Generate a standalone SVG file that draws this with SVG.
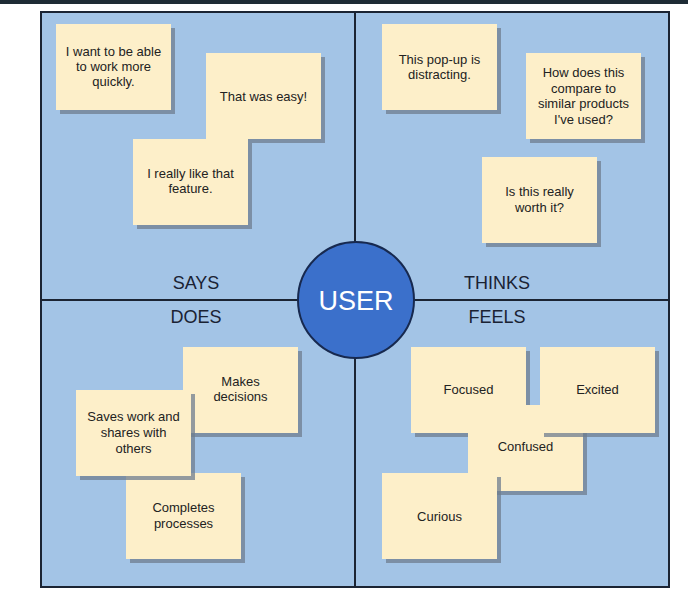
<svg xmlns="http://www.w3.org/2000/svg" width="688" height="596" viewBox="0 0 688 596">
<defs>
<style>
.note{fill:#fdefc9}
.sh{fill:#6f7d8f;opacity:0.75}
.t{font-family:"Liberation Sans",Arial,sans-serif;font-size:13px;fill:#222;text-anchor:middle}
.lab{font-family:"Liberation Sans",Arial,sans-serif;font-size:18px;fill:#1a2233;text-anchor:middle}
.div{stroke:#1b2433;stroke-width:2;fill:none}
</style>
</defs>
<rect x="0" y="0" width="688" height="596" fill="#ffffff"/>
<rect x="0" y="0" width="688" height="4" fill="#1e2b35"/>
<rect id="frame" x="41" y="12" width="628" height="575" fill="#a3c4e6" stroke="#1b2433" stroke-width="2"/>
<g id="connectors">
<line class="div" x1="355" y1="12" x2="355" y2="587"/>
<line class="div" x1="41" y1="300" x2="669" y2="300"/>
</g>
<g id="labels">
<text class="lab" x="196" y="289">SAYS</text>
<text class="lab" x="497" y="289">THINKS</text>
<text class="lab" x="196" y="323">DOES</text>
<text class="lab" x="497" y="323">FEELS</text>
</g>
<g id="says1"><rect class="sh" x="60" y="28" width="115" height="86"/><rect class="note" x="56" y="24" width="115" height="86"/>
<text class="t" x="113.5" y="56">I want to be able</text><text class="t" x="113.5" y="71">to work more</text><text class="t" x="113.5" y="86">quickly.</text></g>
<g id="says2"><rect class="sh" x="210" y="57" width="115" height="86"/><rect class="note" x="206" y="53" width="115" height="86"/>
<text class="t" x="263.5" y="101">That was easy!</text></g>
<g id="says3"><rect class="sh" x="137" y="143" width="115" height="86"/><rect class="note" x="133" y="139" width="115" height="86"/>
<text class="t" x="190.5" y="178">I really like that</text><text class="t" x="190.5" y="193">feature.</text></g>
<g id="thinks1"><rect class="sh" x="386" y="28" width="115" height="86"/><rect class="note" x="382" y="24" width="115" height="86"/>
<text class="t" x="439.5" y="64">This pop-up is</text><text class="t" x="439.5" y="79">distracting.</text></g>
<g id="thinks2"><rect class="sh" x="530" y="57" width="115" height="86"/><rect class="note" x="526" y="53" width="115" height="86"/>
<text class="t" x="583.5" y="77">How does this</text><text class="t" x="583.5" y="92.5">compare to</text><text class="t" x="583.5" y="108">similar products</text><text class="t" x="583.5" y="123.5">I've used?</text></g>
<g id="thinks3"><rect class="sh" x="486" y="161" width="115" height="86"/><rect class="note" x="482" y="157" width="115" height="86"/>
<text class="t" x="539.5" y="196">Is this really</text><text class="t" x="539.5" y="212">worth it?</text></g>
<g id="does1"><rect class="sh" x="187" y="351" width="115" height="86"/><rect class="note" x="183" y="347" width="115" height="86"/>
<text class="t" x="240.5" y="386">Makes</text><text class="t" x="240.5" y="401">decisions</text></g>
<g id="does3"><rect class="sh" x="130" y="477" width="115" height="86"/><rect class="note" x="126" y="473" width="115" height="86"/>
<text class="t" x="183.5" y="512">Completes</text><text class="t" x="183.5" y="528">processes</text></g>
<g id="does2"><rect class="sh" x="80" y="394" width="115" height="86"/><rect class="note" x="76" y="390" width="115" height="86"/>
<text class="t" x="133.5" y="421">Saves work and</text><text class="t" x="133.5" y="437">shares with</text><text class="t" x="133.5" y="453">others</text></g>
<g id="feels1"><rect class="sh" x="415" y="351" width="115" height="86"/><rect class="note" x="411" y="347" width="115" height="86"/>
<text class="t" x="468.5" y="394">Focused</text></g>
<g id="feels3"><rect class="sh" x="472" y="409" width="115" height="86"/><rect class="note" x="468" y="405" width="115" height="86"/>
<text class="t" x="525.5" y="451">Confused</text></g>
<g id="feels2"><rect class="sh" x="544" y="351" width="115" height="86"/><rect class="note" x="540" y="347" width="115" height="86"/>
<text class="t" x="597.5" y="394">Excited</text></g>
<g id="feels4"><rect class="sh" x="386" y="477" width="115" height="86"/><rect class="note" x="382" y="473" width="115" height="86"/>
<text class="t" x="439.5" y="521">Curious</text></g>
<g id="user"><circle cx="356" cy="300" r="58" fill="#3b70cb" stroke="#17294f" stroke-width="2"/>
<text x="356" y="310" font-family="'Liberation Sans',Arial,sans-serif" font-size="27" fill="#ffffff" text-anchor="middle">USER</text></g>
</svg>
